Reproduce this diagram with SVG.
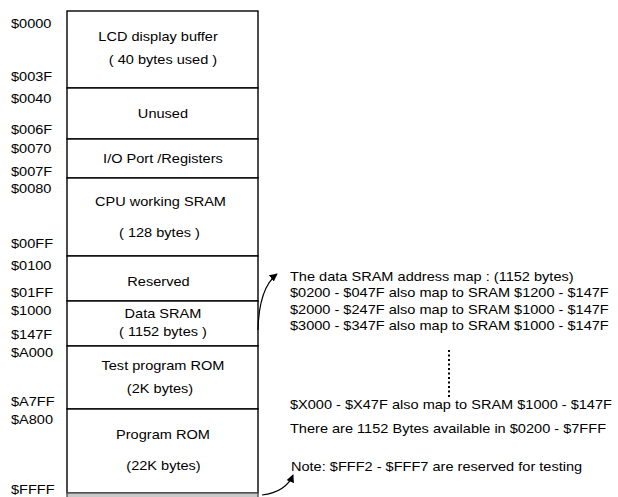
<svg xmlns="http://www.w3.org/2000/svg" width="618" height="497" viewBox="0 0 618 497">
  <style>
    text { font-family: "Liberation Sans", Arial, sans-serif; font-size: 13px; fill: #000; }
    .mid { text-anchor: middle; }
    .seg { fill: #fff; stroke: #000; stroke-width: 1.4; }
    .wire { fill: none; stroke: #000; stroke-width: 1.2; }
    .dots { fill: none; stroke: #000; stroke-width: 2; stroke-dasharray: 2 2.5; }
  </style>
  <defs>
    <marker id="head" viewBox="0 0 10 10" refX="9" refY="5" markerWidth="8" markerHeight="8" markerUnits="userSpaceOnUse" orient="auto">
      <path d="M0,0 L10,5 L0,10 Z" fill="#000"/>
    </marker>
  </defs>
  <rect width="618" height="497" fill="#fff"/>

  <!-- memory map regions (text widened 1.12x horizontally) -->
  <g id="lcd-buffer">
    <rect class="seg" x="67" y="11" width="191" height="77"/>
    <g transform="scale(1.12 1)">
      <text class="mid" x="141.1" y="41">LCD display buffer</text>
      <text class="mid" x="145.5" y="64">( 40 bytes used )</text>
    </g>
  </g>
  <g id="unused">
    <rect class="seg" x="67" y="88" width="191" height="51"/>
    <g transform="scale(1.12 1)"><text class="mid" x="145.5" y="118">Unused</text></g>
  </g>
  <g id="io-registers">
    <rect class="seg" x="67" y="139" width="191" height="39"/>
    <g transform="scale(1.12 1)"><text class="mid" x="145.5" y="163">I/O Port /Registers</text></g>
  </g>
  <g id="cpu-sram">
    <rect class="seg" x="67" y="178" width="191" height="78"/>
    <g transform="scale(1.12 1)">
      <text class="mid" x="143.3" y="206">CPU working SRAM</text>
      <text class="mid" x="142.4" y="237">( 128 bytes )</text>
    </g>
  </g>
  <g id="reserved">
    <rect class="seg" x="67" y="256" width="191" height="45"/>
    <g transform="scale(1.12 1)"><text class="mid" x="141.5" y="286">Reserved</text></g>
  </g>
  <g id="data-sram">
    <rect class="seg" x="67" y="301" width="191" height="45"/>
    <g transform="scale(1.12 1)">
      <text class="mid" x="145.5" y="318">Data SRAM</text>
      <text class="mid" x="145.5" y="336">( 1152 bytes )</text>
    </g>
  </g>
  <g id="test-rom">
    <rect class="seg" x="67" y="346" width="191" height="63"/>
    <g transform="scale(1.12 1)">
      <text class="mid" x="145.5" y="370">Test program ROM</text>
      <text class="mid" x="142.9" y="393">(2K bytes)</text>
    </g>
  </g>
  <g id="program-rom">
    <rect class="seg" x="67" y="409" width="191" height="84"/>
    <g transform="scale(1.12 1)">
      <text class="mid" x="145.5" y="439">Program ROM</text>
      <text class="mid" x="146" y="470">(22K bytes)</text>
    </g>
  </g>
  <g id="vector-area">
    <rect x="67" y="493" width="191" height="8" fill="#c8c8c8" stroke="#555" stroke-width="1.4"/>
  </g>

  <!-- address labels -->
  <g id="addresses" transform="scale(1.12 1)">
    <text x="9.8" y="28">$0000</text>
    <text x="9.8" y="81">$003F</text>
    <text x="9.8" y="103">$0040</text>
    <text x="9.8" y="134">$006F</text>
    <text x="9.8" y="153">$0070</text>
    <text x="9.8" y="176">$007F</text>
    <text x="9.8" y="193">$0080</text>
    <text x="9.8" y="248">$00FF</text>
    <text x="9.8" y="270">$0100</text>
    <text x="9.8" y="297">$01FF</text>
    <text x="9.8" y="315">$1000</text>
    <text x="9.8" y="339">$147F</text>
    <text x="9.8" y="357">$A000</text>
    <text x="9.8" y="406">$A7FF</text>
    <text x="9.8" y="424">$A800</text>
    <text x="9.8" y="494">$FFFF</text>
  </g>

  <!-- notes -->
  <g id="sram-note" transform="scale(1.12 1)">
    <text x="258.9" y="281">The data SRAM address map : (1152 bytes)</text>
    <text x="258.9" y="297">$0200 - $047F also map to SRAM $1200 - $147F</text>
    <text x="258.9" y="314">$2000 - $247F also map to SRAM $1000 - $147F</text>
    <text x="258.9" y="330">$3000 - $347F also map to SRAM $1000 - $147F</text>
    <text x="258.9" y="409">$X000 - $X47F also map to SRAM $1000 - $147F</text>
    <text x="258.9" y="433">There are 1152 Bytes available in $0200 - $7FFF</text>
  </g>
  <g id="test-note" transform="scale(1.12 1)">
    <text x="259.8" y="471">Note: $FFF2 - $FFF7 are reserved for testing</text>
  </g>

  <!-- connectors -->
  <g id="connectors">
    <path class="wire" d="M258,330 Q259,288 277,274" marker-end="url(#head)"/>
    <path class="wire" d="M262,495 Q286,492 293,475" marker-end="url(#head)"/>
    <path class="dots" d="M449,350 L449,398"/>
  </g>
</svg>
